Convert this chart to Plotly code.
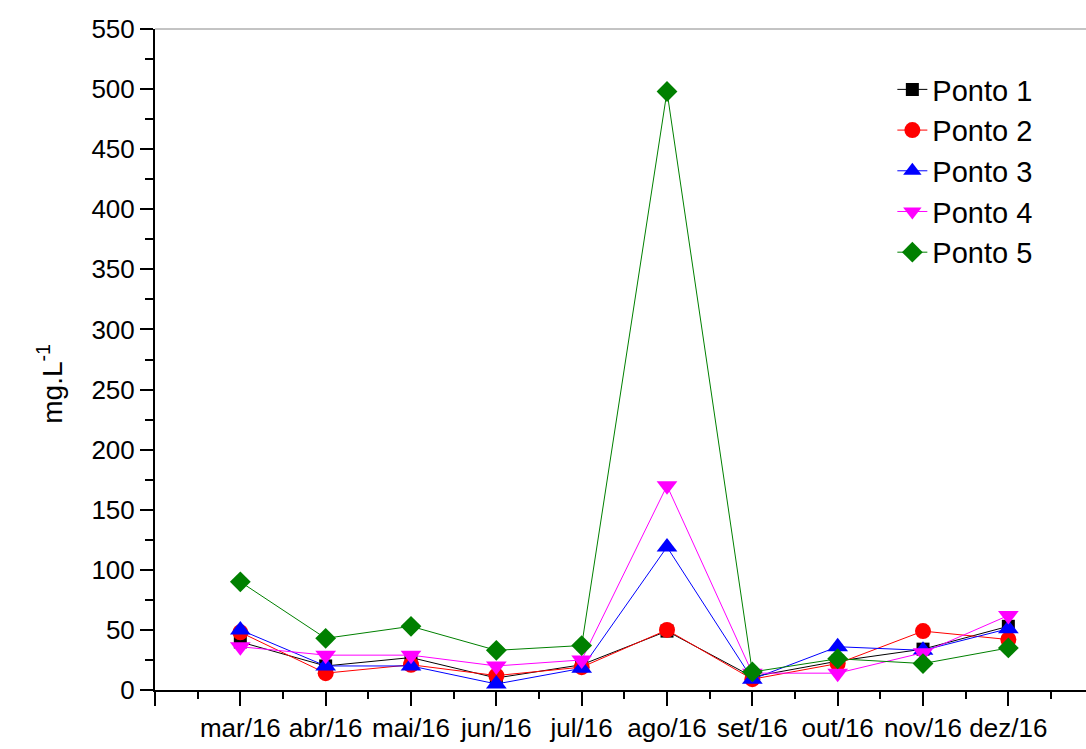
import numpy as np
import plotly.graph_objects as go

# Monthly concentrations (mg.L-1) at each sampling point
months = ["mar/16", "abr/16", "mai/16", "jun/16", "jul/16",
          "ago/16", "set/16", "out/16", "nov/16", "dez/16"]
ponto1 = [40, 20, 27, 10, 21, 49, 11, 24, 34, 53]
ponto2 = [48, 14, 21, 12, 19, 50, 9, 22, 49, 42]
ponto3 = [50, 20, 20, 5, 18, 119, 9, 36, 33, 51]
ponto4 = [36, 29, 29, 20, 25, 170, 14, 14, 31, 62]
ponto5 = [90, 43, 53, 33, 37, 498, 15, 26, 22, 35]

series = [
    ("Ponto 1", ponto1, "#000000", "square", 13),
    ("Ponto 2", ponto2, "#FF0000", "circle", 16),
    ("Ponto 3", ponto3, "#0000FF", "triangle-up", 18),
    ("Ponto 4", ponto4, "#FF00FF", "triangle-down", 18),
    ("Ponto 5", ponto5, "#008000", "diamond", 16),
]

FONT = "Arial, Liberation Sans, sans-serif"
x = list(range(1, len(months) + 1))

fig = go.Figure()
for name, vals, color, symbol, size in series:
    fig.add_trace(go.Scatter(
        x=x, y=vals, name=name, mode="lines+markers",
        line=dict(color=color, width=1),
        marker=dict(symbol=symbol, size=size, color=color, line=dict(width=0)),
        cliponaxis=False,
    ))

x_max = 10.91
fig.update_layout(
    width=1086, height=749,
    margin=dict(l=155, r=0, t=29, b=59),
    paper_bgcolor="white", plot_bgcolor="white",
    font=dict(family=FONT, color="black"),
    showlegend=True,
    legend=dict(
        x=0.792, y=0.947, xanchor="left", yanchor="top",
        font=dict(family=FONT, size=29, color="black"),
        bgcolor="rgba(0,0,0,0)", tracegroupgap=0,
    ),
    xaxis=dict(
        range=[0, x_max],
        tickmode="array",
        tickvals=list(range(0, len(months) + 1)),
        ticktext=[" "] + months,
        ticks="outside", ticklen=14, tickwidth=2, tickcolor="black",
        showline=True, linecolor="black", linewidth=2,
        showgrid=False, zeroline=False,
        tickfont=dict(family=FONT, size=26, color="black"),
        minor=dict(tickvals=list(np.arange(0.5, x_max, 1.0)),
                   ticks="outside", ticklen=7, tickwidth=2,
                   tickcolor="black", showgrid=False),
    ),
    yaxis=dict(
        range=[0, 550],
        tickmode="linear", tick0=0, dtick=50,
        ticks="outside", ticklen=13, tickwidth=2, tickcolor="black",
        showline=True, linecolor="black", linewidth=2,
        showgrid=False, zeroline=False,
        tickfont=dict(family=FONT, size=26, color="black"),
        minor=dict(tick0=0, dtick=25, ticks="outside", ticklen=8,
                   tickwidth=2, tickcolor="black", showgrid=False),
    ),
    shapes=[dict(type="line", xref="paper", yref="paper",
                 x0=0, x1=1, y0=1, y1=1,
                 line=dict(color="#888888", width=1))],
    annotations=[dict(
        text="mg.L<sup>-1</sup>", textangle=-90,
        xref="paper", yref="paper", x=-0.113, y=0.463,
        xanchor="center", yanchor="middle", showarrow=False,
        font=dict(family=FONT, size=28, color="black"),
    )],
)

fig.write_html("out.html")
